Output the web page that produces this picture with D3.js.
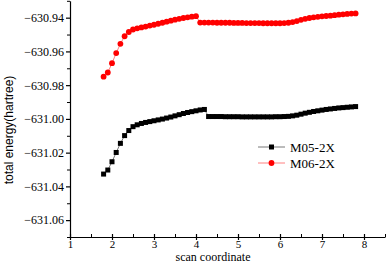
<!DOCTYPE html>
<html>
<head>
<meta charset="utf-8">
<script src="https://cdn.jsdelivr.net/npm/d3@7"></script>
<style>
  body { margin: 0; background: #fff; }
</style>
</head>
<body>
<div id="chart"></div>
<script>
// scan coordinate values (same for both series)
let scan = [1.8, 1.9, 2.0, 2.1, 2.2, 2.3, 2.4, 2.5, 2.6, 2.7, 2.8, 2.9, 3.0, 3.1, 3.2, 3.3,
  3.4, 3.5, 3.6, 3.7, 3.8, 3.9, 4.0, 4.1, 4.2, 4.3, 4.4, 4.5, 4.6, 4.7, 4.8, 4.9, 5.0,
  5.1, 5.2, 5.3, 5.4, 5.5, 5.6, 5.7, 5.8, 5.9, 6.0, 6.1, 6.2, 6.3, 6.4, 6.5, 6.6, 6.7,
  6.8, 6.9, 7.0, 7.1, 7.2, 7.3, 7.4, 7.5, 7.6, 7.7, 7.8];

let m05 = [-631.0327, -631.0303, -631.0254, -631.0199, -631.0145, -631.0099, -631.0069,
  -631.0046, -631.0035, -631.0027, -631.0021, -631.0016, -631.0011, -631.0006, -631.0001,
  -630.9995, -630.9989, -630.9982, -630.9975, -630.9968, -630.9962, -630.9957, -630.9952,
  -630.9947, -630.9944, -630.9986, -630.9986, -630.9986, -630.9986, -630.9987, -630.9987,
  -630.9987, -630.9987, -630.9988, -630.9988, -630.9988, -630.9988, -630.9988, -630.9988,
  -630.9988, -630.9988, -630.9987, -630.9987, -630.9986, -630.9985, -630.9982, -630.9978,
  -630.9972, -630.9966, -630.9961, -630.9956, -630.9952, -630.9948, -630.9944, -630.9941,
  -630.9938, -630.9935, -630.9933, -630.9931, -630.9929, -630.9927];

let m06 = [-630.9750, -630.9725, -630.9670, -630.9610, -630.9555, -630.9510, -630.9485,
  -630.9470, -630.9463, -630.9458, -630.9453, -630.9447, -630.9442, -630.9436, -630.9430,
  -630.9424, -630.9418, -630.9412, -630.9407, -630.9402, -630.9398, -630.9394, -630.9391,
  -630.9429, -630.9429, -630.9429, -630.9429, -630.9430, -630.9430, -630.9430, -630.9430,
  -630.9431, -630.9431, -630.9431, -630.9432, -630.9432, -630.9432, -630.9432, -630.9433,
  -630.9433, -630.9433, -630.9433, -630.9433, -630.9432, -630.9430, -630.9426, -630.9420,
  -630.9413, -630.9407, -630.9402, -630.9398, -630.9395, -630.9392, -630.9390, -630.9388,
  -630.9385, -630.9382, -630.9380, -630.9378, -630.9376, -630.9375];

let xTicks = [1, 2, 3, 4, 5, 6, 7, 8];
let yTicks = [-631.06, -631.04, -631.02, -631.00, -630.98, -630.96, -630.94];
let seriesNames = ["M05-2X", "M06-2X"];

let width = 387;
let height = 263;
let serif = "'Liberation Serif', 'Times New Roman', serif";

let svg = d3.select("#chart")
  .append("svg")
  .attr("width", width)
  .attr("height", height);

let x = d3.scaleLinear().domain([1, 8.5]).range([70, 385]);
let y = d3.scaleLinear().domain([-631.07, -630.93]).range([237, 0.8]);

// minor ticks first, major axis on top
svg.append("g")
  .attr("transform", "translate(0,237)")
  .call(d3.axisBottom(x).tickValues(d3.range(1.5, 8.6, 1)).tickSize(-3).tickFormat(""))
  .call(g => g.select(".domain").remove());

svg.append("g")
  .attr("transform", "translate(0,237)")
  .call(d3.axisBottom(x).tickValues(xTicks).tickSizeInner(3).tickSizeOuter(0).tickPadding(0)
    .tickFormat(d3.format("d")))
  .call(g => g.selectAll("text").style("font-family", serif).style("font-size", "11px"))
  .call(g => g.selectAll(".tick line").attr("y1", -3))
  .call(g => g.selectAll("path, line").attr("stroke-width", 1.2));

svg.append("g")
  .attr("transform", "translate(70,0)")
  .call(d3.axisLeft(y).tickValues(d3.range(-631.07, -630.925, 0.02)).tickSize(3).tickFormat(""))
  .call(g => g.select(".domain").remove());

svg.append("g")
  .attr("transform", "translate(70,0)")
  .call(d3.axisLeft(y).tickValues(yTicks).tickSizeInner(4).tickSizeOuter(0).tickPadding(2)
    .tickFormat(d3.format(".2f")))
  .call(g => g.selectAll("text").style("font-family", serif).style("font-size", "12px"))
  .call(g => g.selectAll("path, line").attr("stroke-width", 1.2));

let line = d3.line()
  .x((d, i) => x(scan[i]))
  .y(d => y(d));

// M05-2X, black squares
svg.append("path")
  .datum(m05)
  .attr("fill", "none")
  .attr("stroke", "#555")
  .attr("stroke-width", 0.8)
  .attr("d", line);

svg.append("g")
  .selectAll("rect")
  .data(m05)
  .enter()
  .append("rect")
  .attr("x", (d, i) => x(scan[i]) - 2.5)
  .attr("y", d => y(d) - 2.5)
  .attr("width", 5)
  .attr("height", 5)
  .attr("fill", "#000");

// M06-2X, red circles
svg.append("path")
  .datum(m06)
  .attr("fill", "none")
  .attr("stroke", "#ff6060")
  .attr("stroke-width", 0.8)
  .attr("d", line);

svg.append("g")
  .selectAll("circle")
  .data(m06)
  .enter()
  .append("circle")
  .attr("cx", (d, i) => x(scan[i]))
  .attr("cy", d => y(d))
  .attr("r", 2.9)
  .attr("fill", "#ff0000");

// legend
let legend = svg.append("g");
let legendColors = [["#555", "#000"], ["#ff6060", "#ff0000"]];
seriesNames.forEach(function(name, i) {
  let ly = 147 + i * 16;
  legend.append("line")
    .attr("x1", 258).attr("x2", 285)
    .attr("y1", ly).attr("y2", ly)
    .attr("stroke", legendColors[i][0])
    .attr("stroke-width", 0.8);
  if (i == 0) {
    legend.append("rect")
      .attr("x", 269).attr("y", ly - 2.5)
      .attr("width", 5).attr("height", 5)
      .attr("fill", legendColors[i][1]);
  } else {
    legend.append("circle")
      .attr("cx", 271.5).attr("cy", ly)
      .attr("r", 2.9)
      .attr("fill", legendColors[i][1]);
  }
  legend.append("text")
    .attr("x", 290)
    .attr("y", ly + 5)
    .style("font-family", serif)
    .style("font-size", "13px")
    .text(name);
});

// axis titles
svg.append("text")
  .attr("x", 213)
  .attr("y", 261)
  .attr("text-anchor", "middle")
  .style("font-family", serif)
  .style("font-size", "12px")
  .text("scan coordinate");

svg.append("text")
  .attr("transform", "translate(13,130) rotate(-90)")
  .attr("text-anchor", "middle")
  .style("font-family", "'Liberation Sans', Arial, sans-serif")
  .style("font-size", "12px")
  .text("total energy(hartree)");
</script>
</body>
</html>
